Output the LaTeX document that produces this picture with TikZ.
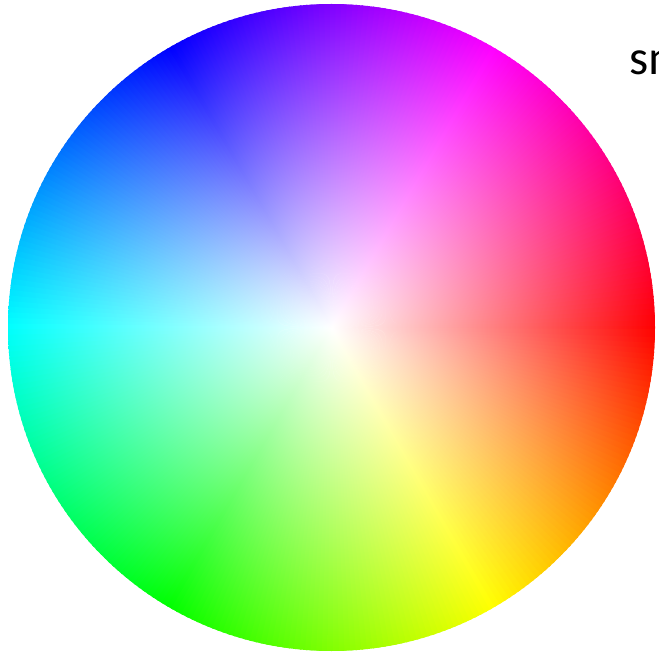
\documentclass[tikz,border=0pt]{standalone}
\usepackage{fontspec}
\setmainfont{Carlito}
\begin{document}
\begin{tikzpicture}[x=1pt,y=1pt,
  wheelpart/.style={inner color=white}]
\useasboundingbox (0,0) rectangle (659,657);
\clip (0,0) rectangle (659,657);
\fill[white] (0,0) rectangle (659,657);
\coordinate (C) at (331.5,329.5);
\foreach \a in {0,...,359}{
  \pgfmathsetmacro\hue{mod(360-\a,360)}
  \definecolor{huec}{Hsb}{\hue,1,1}
  \begin{scope}
    \clip (C) -- ([shift={(\a-0.7:345)}]C) -- ([shift={(\a+0.7:345)}]C) -- cycle;
    \shade[wheelpart, outer color=huec] (C) circle (323.5);
  \end{scope}
}
\node[anchor=base west, inner sep=0pt, font=\fontsize{49}{59}\selectfont] (lbl) at (629,582) {sm};
\end{tikzpicture}
\end{document}
